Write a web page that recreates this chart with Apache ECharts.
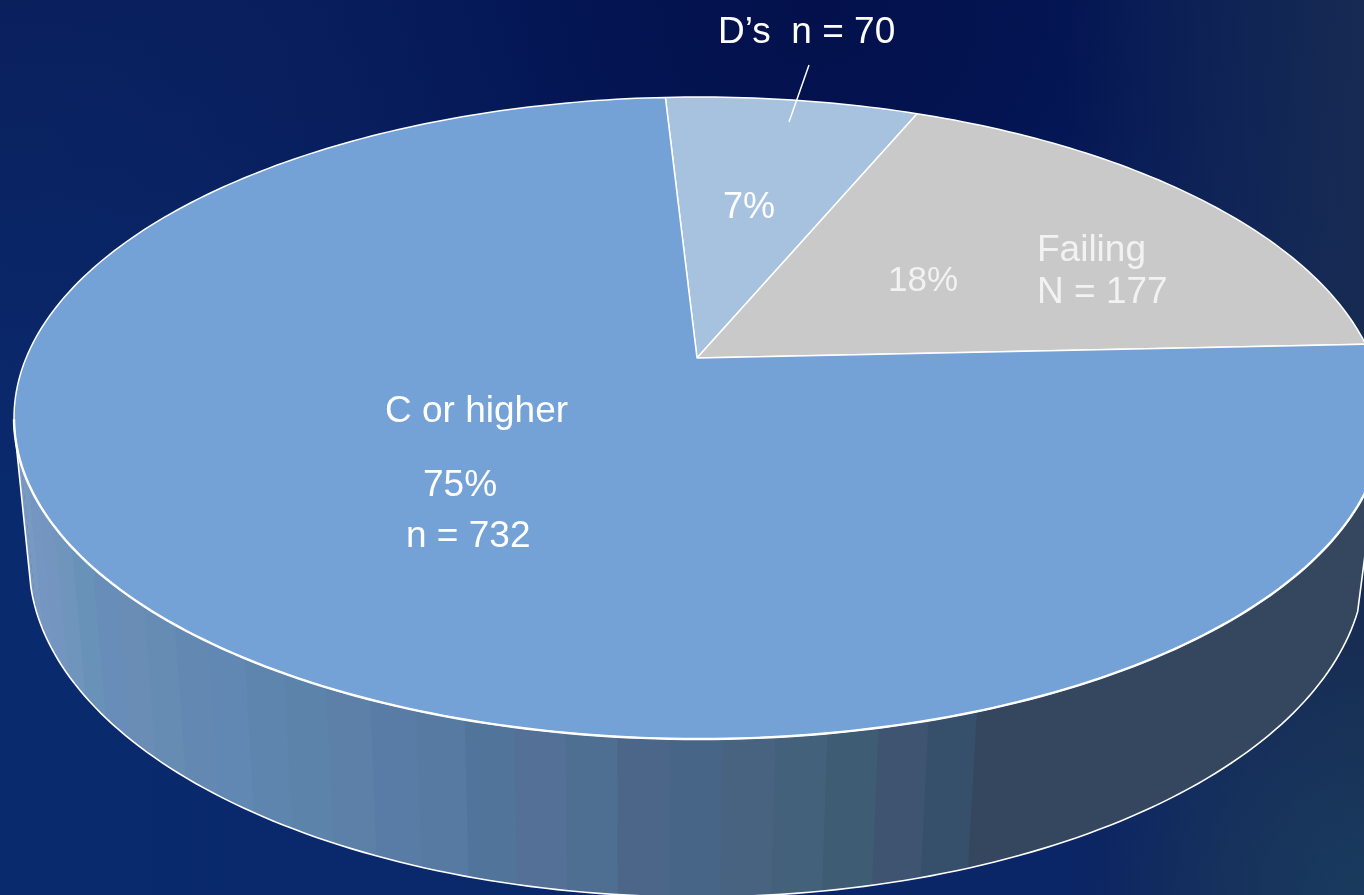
<!DOCTYPE html>
<html>
<head>
<meta charset="utf-8">
<style>html,body{margin:0;padding:0;background:#0a2868}#chart{width:1364px;height:895px}</style>
<script src="https://cdn.jsdelivr.net/npm/echarts@6/dist/echarts.min.js"></script>
</head>
<body>
<div id="chart"></div>
<script>
// Grade distribution: number of students in each outcome
const categories = ["D's", 'Failing', 'C or higher'];
const counts = [70, 177, 732];
const percentLabels = ['7%', '18%', '75%'];
const sliceColors = ['#a6c2df', '#c9c9c9', '#74a2d7'];

// Side wall shading, left to right, one entry per facet
const wallShades = [
  '#7b9ac3', '#7899c2', '#7496c0', '#7395bf', '#6f95bc', '#6992b9', '#688db8', '#698db5',
  '#668cb4', '#6389b3', '#6188b3', '#5d85ae', '#5c84ab', '#5d80a9', '#597ca6', '#567aa2',
  '#51749b', '#547096', '#4e6e92', '#4c668a', '#476587', '#48637f', '#43617a', '#3e5c74',
  '#3e5470', '#364f6b', '#35475f', '#35475f', '#35475f', '#35475f', '#35475f', '#35475f',
  '#35475f', '#35475f', '#35475f', '#35475f', '#35475f', '#35475f', '#35475f', '#35475f'
];

// Tilted-disc projection: rings are ellipses, the disc centre shifts up by the tilt
const topRing = { cx: 699, cy: 418, a: 685, b: 321 };
const baseRing = { cx: 697, cy: 562, a: 668, b: 335 };
const tilt = 0.187;
const firstSliceAngle = -3.4;
const wallStartAngle = 255;
const wallSweep = 146;

function project(ring, deg) {
  const t = deg * Math.PI / 180;
  const u = Math.sin(t), v = -Math.cos(t);
  const d = 1 - tilt * v;
  return [
    ring.cx + ring.a * u * Math.sqrt(1 - tilt * tilt) / d,
    ring.cy + ring.b * (v - tilt) / d
  ];
}
function hub(ring) {
  return [ring.cx - 2, ring.cy - ring.b * tilt];
}
function arc(ring, from, to) {
  const pts = [];
  const n = Math.max(2, Math.ceil(Math.abs(to - from)));
  for (let i = 0; i <= n; i++) pts.push(project(ring, from + (to - from) * i / n));
  return pts;
}

const total = counts.reduce((a, b) => a + b, 0);
const frontArc = [wallStartAngle + 4, wallStartAngle - wallSweep - 4];
const fullPage = { x: 0, y: 0, width: 1364, height: 895 };

const option = {
  animation: false,
  backgroundColor: '#0a2868',
  graphic: [
    { type: 'rect', z: -5, silent: true, shape: fullPage,
      style: { fill: { type: 'linear', x: 0, y: 0, x2: 1, y2: 0, colorStops: [
        { offset: 0, color: '#0a2a6e' }, { offset: 0.5, color: '#08286a' },
        { offset: 0.85, color: '#0c2565' }, { offset: 1, color: '#122d60' } ] } } },
    // Darker band along the top of the backdrop
    { type: 'rect', z: -4, silent: true, shape: fullPage,
      style: { fill: { type: 'linear', x: 0, y: 0, x2: 0, y2: 0.55, colorStops: [
        { offset: 0, color: 'rgba(10,32,92,1)' }, { offset: 1, color: 'rgba(10,32,92,0)' } ] } } },
    { type: 'rect', z: -3, silent: true, shape: fullPage,
      style: { fill: { type: 'radial', x: 0.6, y: 0, r: 0.95, colorStops: [
        { offset: 0, color: 'rgba(3,16,76,1)' }, { offset: 0.3, color: 'rgba(3,20,82,0.9)' },
        { offset: 0.7, color: 'rgba(8,30,96,0.45)' }, { offset: 1, color: 'rgba(8,36,104,0)' } ] } } },
    { type: 'rect', z: -2, silent: true, shape: fullPage,
      style: { fill: { type: 'linear', x: 0.78, y: 0, x2: 1, y2: 0, colorStops: [
        { offset: 0, color: 'rgba(24,44,80,0)' }, { offset: 1, color: 'rgba(24,44,80,0.85)' } ] } } },
    { type: 'rect', z: -1, silent: true, shape: fullPage,
      style: { fill: { type: 'radial', x: 1, y: 1, r: 0.3, colorStops: [
        { offset: 0, color: 'rgba(26,60,96,0.9)' }, { offset: 1, color: 'rgba(26,60,96,0)' } ] } } },
    // Leader from the D's caption into its slice
    { type: 'line', z: 20, silent: true, shape: { x1: 809, y1: 65, x2: 789, y2: 122 },
      style: { stroke: '#ffffff', lineWidth: 1.5 } },
    ...[
      [`${categories[0].replace("'", '’')}  n = ${counts[0]}`, 718, 33, 37, '#ffffff'],
      [percentLabels[0], 723, 208, 36, '#ffffff'],
      [percentLabels[1], 888, 281, 35, '#f2f2f2'],
      [categories[1], 1037, 251, 37, '#f2f2f2'],
      [`N = ${counts[1]}`, 1037, 293, 37, '#f2f2f2'],
      [categories[2], 385, 412, 37, '#ffffff'],
      [percentLabels[2], 423, 486, 37, '#ffffff'],
      [`n = ${counts[2]}`, 406, 537, 37, '#ffffff']
    ].map(([text, x, y, size, fill]) => ({
      type: 'text', z: 30, silent: true, x, y,
      style: { text, fill, font: `${size}px "Liberation Sans", Arial, sans-serif`,
        textAlign: 'left', textVerticalAlign: 'middle' }
    }))
  ],
  series: [
    {
      // Facets of the side wall between the rim and the base ring
      type: 'custom', name: 'wall', coordinateSystem: 'none', silent: true, z: 2,
      data: wallShades.map((_, i) => [i]),
      renderItem(params, api) {
        const i = api.value(0);
        const step = wallSweep / wallShades.length;
        const from = wallStartAngle - i * step;
        const to = from - step - (i < wallShades.length - 1 ? 0.3 : 0);
        const pts = arc(topRing, from, to).concat(arc(baseRing, to, from));
        return { type: 'polygon', shape: { points: pts },
          style: { fill: wallShades[i], stroke: null } };
      }
    },
    {
      // Outline of the wall: two side edges and the lower rim
      type: 'custom', name: 'wallOutline', coordinateSystem: 'none', silent: true, z: 3,
      data: [[0]],
      renderItem() {
        const end = wallStartAngle - wallSweep;
        const pts = [project(topRing, wallStartAngle)]
          .concat(arc(baseRing, wallStartAngle, end))
          .concat([project(topRing, end)]);
        return { type: 'polyline', shape: { points: pts },
          style: { fill: null, stroke: '#ffffff', lineWidth: 1.6 } };
      }
    },
    {
      // Pie slices on the top face
      type: 'custom', name: 'slices', coordinateSystem: 'none', silent: true, z: 4,
      data: counts.map(c => [c]),
      renderItem(params, api) {
        let start = firstSliceAngle;
        for (let i = 0; i < params.dataIndex; i++) start += counts[i] / total * 360;
        const sweep = api.value(0) / total * 360;
        const pts = [hub(topRing)].concat(arc(topRing, start, start + sweep));
        return { type: 'polygon', shape: { points: pts },
          style: { fill: sliceColors[params.dataIndex], stroke: '#ffffff', lineWidth: 1.5, lineJoin: 'round' } };
      }
    },
    {
      // Heavier front edge of the top face
      type: 'custom', name: 'rim', coordinateSystem: 'none', silent: true, z: 5,
      data: [[0]],
      renderItem() {
        return { type: 'polyline', shape: { points: arc(topRing, frontArc[0], frontArc[1]) },
          style: { fill: null, stroke: '#ffffff', lineWidth: 2.4 } };
      }
    }
  ]
};
const chart = echarts.init(document.getElementById('chart'), null, { renderer: 'canvas' });
chart.setOption(option);
</script>
</body>
</html>
